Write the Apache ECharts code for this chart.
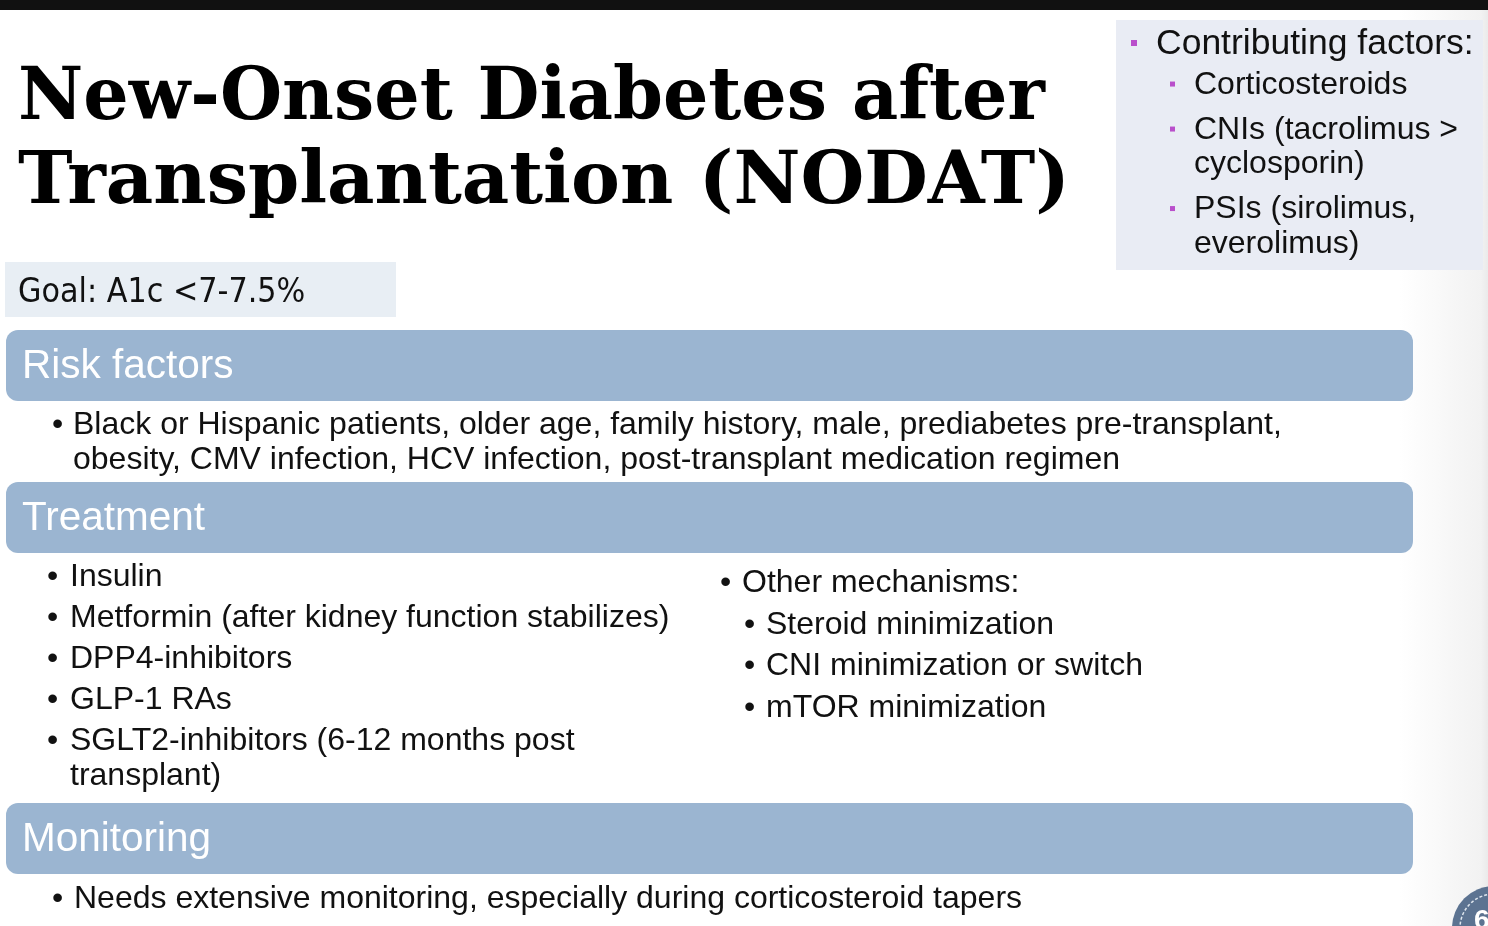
<!DOCTYPE html>
<html>
<head>
<meta charset="utf-8">
<script src="https://cdn.jsdelivr.net/npm/echarts@6/dist/echarts.min.js"></script>
<style>
  html, body { margin: 0; padding: 0; background: #fff; }
  #main { width: 1488px; height: 926px; }
</style>
</head>
<body>
<div id="main"></div>
<script>
// slide content
const titleLines = ['New-Onset Diabetes after', 'Transplantation (NODAT)'];
const goalText = 'Goal: A1c <7-7.5%';
const contributingHead = 'Contributing factors:';
const contributingItems = [
  ['Corticosteroids'],
  ['CNIs (tacrolimus >', 'cyclosporin)'],
  ['PSIs (sirolimus,', 'everolimus)']
];
const sectionTitles = ['Risk factors', 'Treatment', 'Monitoring'];
const riskItems = [
  ['Black or Hispanic patients, older age, family history, male, prediabetes pre-transplant,',
   'obesity, CMV infection, HCV infection, post-transplant medication regimen']
];
const treatmentItems = [
  ['Insulin'],
  ['Metformin (after kidney function stabilizes)'],
  ['DPP4-inhibitors'],
  ['GLP-1 RAs'],
  ['SGLT2-inhibitors (6-12 months post', 'transplant)']
];
const otherHead = 'Other mechanisms:';
const otherItems = ['Steroid minimization', 'CNI minimization or switch', 'mTOR minimization'];
const monitoringItems = [
  ['Needs extensive monitoring, especially during corticosteroid tapers']
];
const pageNumber = '6';

const SANS = '"Liberation Sans", Arial, sans-serif';
const SERIF = '"DejaVu Serif", Georgia, serif';
const HEADER_BLUE = '#9bb5d1';

const measureCtx = document.createElement('canvas').getContext('2d');
function textWidth(str, font) {
  measureCtx.font = font;
  return measureCtx.measureText(str).width;
}

// text placed by its baseline (approx, via middle alignment)
function txt(str, x, baseline, fs, opts) {
  opts = opts || {};
  return {
    type: 'text',
    x: x,
    y: baseline - fs * 0.31,
    scaleX: opts.scaleX || 1,
    z: 10,
    style: {
      text: str,
      fill: opts.fill || '#111',
      fontSize: fs,
      fontFamily: opts.family || SANS,
      fontWeight: opts.weight || 'normal',
      verticalAlign: 'middle',
      align: 'left'
    }
  };
}

function bulletList(items, o) {
  const els = [];
  let y = o.y0;
  items.forEach(function (lines, i) {
    if (i > 0) y += o.itemGap;
    if (o.square) {
      els.push({
        type: 'rect', z: 10,
        shape: { x: o.bx, y: y - o.fs * 0.42, width: 5, height: 5 },
        style: { fill: '#b94fcb' }
      });
    } else {
      els.push(txt('\u2022', o.bx, y, o.fs, {}));
    }
    lines.forEach(function (line, j) {
      if (j > 0) y += o.lineGap;
      els.push(txt(line, o.tx, y, o.fs, { scaleX: o.scaleX }));
    });
  });
  return els;
}

const elements = [];

// top black strip
elements.push({ type: 'rect', shape: { x: 0, y: 0, width: 1488, height: 10 }, style: { fill: '#111' } });

// right edge shading
elements.push({
  type: 'rect', shape: { x: 1400, y: 10, width: 88, height: 916 },
  style: {
    fill: new echarts.graphic.LinearGradient(0, 0, 1, 0, [
      { offset: 0, color: 'rgba(242,242,242,0)' },
      { offset: 0.92, color: '#f2f2f2' },
      { offset: 1, color: '#eaeaea' }
    ])
  }
});

// title, fitted to the slide width
const titleFs = 72;
const titleFont = 'bold ' + titleFs + 'px ' + SERIF;
const titleTargets = [1027, 1052];
const titleBase = [123, 207];
titleLines.forEach(function (line, i) {
  const sx = titleTargets[i] / textWidth(line, titleFont);
  elements.push(txt(line, 18, titleBase[i], titleFs, { family: SERIF, weight: 'bold', scaleX: sx, fill: '#000' }));
});

// contributing factors box
elements.push({ type: 'rect', shape: { x: 1116, y: 20, width: 367, height: 250 }, style: { fill: '#e9ecf4' } });
elements.push({ type: 'rect', z: 10, shape: { x: 1131, y: 40, width: 6, height: 6 }, style: { fill: '#b94fcb' } });
elements.push(txt(contributingHead, 1156, 55, 35.5));
elements.push.apply(elements, bulletList(contributingItems, {
  bx: 1170, tx: 1194, y0: 95, itemGap: 45, lineGap: 34.5, fs: 32, square: true
}));

// goal box
elements.push({ type: 'rect', shape: { x: 5, y: 262, width: 391, height: 55 }, style: { fill: '#e8eef4' } });
elements.push(txt(goalText, 18, 304, 34, { family: '"DejaVu Sans", sans-serif', scaleX: 0.89 }));

// section header bars
const headerTops = [330, 482, 803];
sectionTitles.forEach(function (t, i) {
  elements.push({
    type: 'rect',
    shape: { x: 6, y: headerTops[i], width: 1407, height: 71, r: 12 },
    style: { fill: HEADER_BLUE }
  });
  elements.push(txt(t, 22, headerTops[i] + 49, 40.5, { fill: '#fff' }));
});

// risk factors
elements.push.apply(elements, bulletList(riskItems, {
  bx: 52, tx: 73, y0: 435, itemGap: 41, lineGap: 35, fs: 32
}));

// treatment, left column
elements.push.apply(elements, bulletList(treatmentItems, {
  bx: 47, tx: 70, y0: 587, itemGap: 41, lineGap: 35, fs: 32
}));

// treatment, right column
elements.push(txt('\u2022', 720, 593, 32));
elements.push(txt(otherHead, 742, 593, 32));
elements.push.apply(elements, bulletList(otherItems.map(function (s) { return [s]; }), {
  bx: 744, tx: 766, y0: 635, itemGap: 41.5, lineGap: 35, fs: 32
}));

// monitoring
elements.push.apply(elements, bulletList(monitoringItems, {
  bx: 52, tx: 74, y0: 909, itemGap: 41, lineGap: 35, fs: 32
}));

// page number badge, cut off at the corner
elements.push({ type: 'circle', z: 5, shape: { cx: 1494, cy: 928, r: 42 }, style: { fill: '#5c7391' } });
elements.push({ type: 'circle', z: 6, shape: { cx: 1494, cy: 928, r: 34 }, style: { fill: 'none', stroke: '#dfe6ee', lineWidth: 1.5, lineDash: [3, 2] } });
elements.push(txt(pageNumber, 1474, 930, 28, { fill: '#fff', weight: 'bold' }));

const chart = echarts.init(document.getElementById('main'), null, { renderer: 'canvas' });
chart.setOption({
  backgroundColor: '#fff',
  animation: false,
  graphic: { elements: elements }
});
</script>
</body>
</html>
